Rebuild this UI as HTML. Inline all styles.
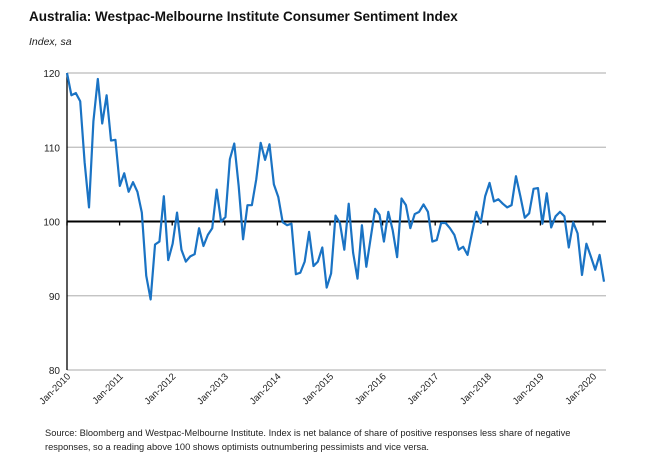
<!DOCTYPE html>
<html><head><meta charset="utf-8"><style>
body{margin:0;width:650px;height:455px;background:#fff;font-family:"Liberation Sans",sans-serif;overflow:hidden}
</style></head><body>
<svg width="650" height="455" id="chart">
<text x="29" y="21" font-size="13.5" font-weight="bold" fill="#111">Australia: Westpac-Melbourne Institute Consumer Sentiment Index</text>
<text x="29" y="45" font-size="10.5" font-style="italic" fill="#222">Index, sa</text>
<g id="grid"></g><g id="xt"></g><g id="ser"></g>
<text x="45" y="436" font-size="9.3" fill="#222">Source: Bloomberg and Westpac-Melbourne Institute.  Index is net balance of share of positive responses less share of negative</text>
<text x="45" y="450" font-size="9.3" fill="#222">responses, so a reading above 100 shows optimists outnumbering pessimists and vice versa.</text>
</svg>
<script>
const yTicks=[80,90,100,110,120];
const xLabels=["Jan-2010","Jan-2011","Jan-2012","Jan-2013","Jan-2014","Jan-2015","Jan-2016","Jan-2017","Jan-2018","Jan-2019","Jan-2020"];
const values=[120,117,117.3,116.2,108,101.9,113.5,119.2,113.2,117,110.9,111,
104.8,106.5,104,105.3,104,101.2,92.7,89.5,96.9,97.3,103.4,94.8,
97,101.2,96.2,94.6,95.3,95.6,99.1,96.7,98.2,99.1,104.3,100,
100.6,108.4,110.5,104.8,97.6,102.2,102.2,105.7,110.6,108.3,110.4,105,
103.3,99.9,99.5,99.7,92.9,93.1,94.6,98.6,94,94.6,96.5,91.1,
93,100.8,99.8,96.2,102.4,95.8,92.3,99.5,93.9,97.8,101.7,100.9,97.3,101.3,98.8,95.2,103.1,102.2,99.1,101.0,101.3,102.3,101.3,97.3,97.5,99.8,99.8,99.1,98.2,96.2,96.6,95.5,98.4,101.3,99.8,103.4,105.2,102.7,103.0,102.4,101.9,102.2,106.1,103.4,100.5,101.1,104.4,104.5,99.7,103.8,99.2,100.7,101.3,100.7,96.5,99.9,98.4,92.8,97.0,95.3,93.5,95.5,91.9];
const X0=67,X1=606,Y=v=>370-(v-80)*7.425;
const xm=i=>X0+i*(604-X0)/(values.length-1);
const xy=k=>X0+k*52.6;
const NS="http://www.w3.org/2000/svg";
function mk(t,a,p){const e=document.createElementNS(NS,t);for(const k in a)e.setAttribute(k,a[k]);p.appendChild(e);return e;}
const g=document.getElementById('grid');
yTicks.forEach(v=>{
 const l=mk('line',{x1:X0,x2:X1,y1:Y(v),y2:Y(v),stroke:v===100?'#000':'#bbb','stroke-width':v===100?2:1.3},g);
 
 
 const t=mk('text',{x:X0-7,y:Y(v)+4,'font-size':10,'text-anchor':'end',fill:'#222'},g);t.textContent=v;
 
 
});
const ax=mk('line',{x1:X0,x2:X0,y1:Y(120),y2:Y(80),stroke:'#000','stroke-width':1.3},g);


const xt=document.getElementById('xt');
xLabels.forEach((s,k)=>{
 const x=xy(k);
 const tk=mk('line',{x1:x,x2:x,y1:Y(100),y2:Y(100)+4,stroke:'#000','stroke-width':1.3},xt);
 
 
 const t=mk('text',{x:x+4,y:377,'font-size':9.5,'text-anchor':'end',fill:'#222',transform:`rotate(-45 ${x+4} 377)`},xt);t.textContent=s;
 
 
});
const p=mk('polyline',{points:values.map((v,i)=>xm(i)+','+Y(v)).join(' '),fill:'none',stroke:'#1a73c4','stroke-width':2.2,'stroke-linejoin':'round'},document.getElementById('ser'));


</script>
</body></html>
